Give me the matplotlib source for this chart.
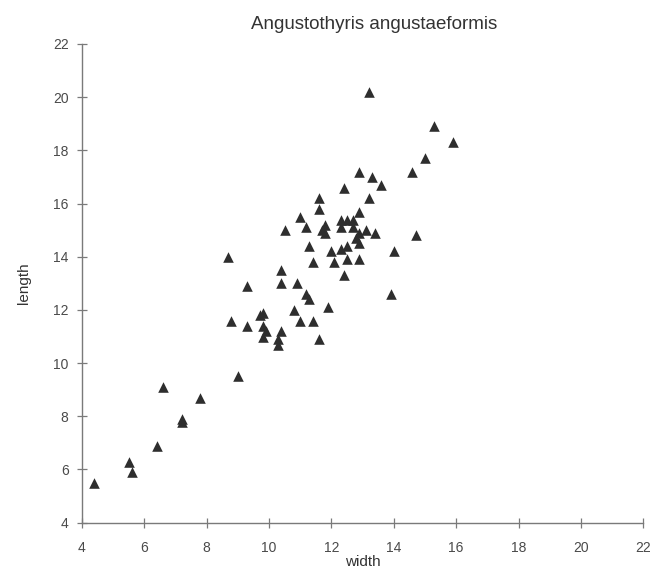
import matplotlib
matplotlib.use('Agg')
import matplotlib.pyplot as plt

plt.rcParams['font.family'] = ['Liberation Sans', 'DejaVu Sans']

# 宽度 / 长度
width = [4.4, 5.5, 5.6, 6.4, 6.6, 7.2, 7.2, 7.8, 8.7, 8.8, 9.0, 9.3, 9.3, 9.7, 9.8,
         9.8, 9.9, 9.8, 10.3, 10.3, 10.4, 10.4, 10.4, 10.5, 10.8, 10.9, 11.0, 11.0,
         11.2, 11.2, 11.3, 11.3, 11.4, 11.4, 11.6, 11.6, 11.6, 11.8, 11.7, 11.8, 11.9,
         12.0, 12.1, 12.3, 12.3, 12.3, 12.4, 12.4, 12.5, 12.5, 12.5, 12.7, 12.7, 12.8,
         12.9, 12.9, 12.9, 12.9, 12.9, 13.1, 13.2, 13.2, 13.3, 13.4, 13.6, 13.9, 14.0,
         14.6, 14.7, 15.0, 15.3, 15.9]
length = [5.5, 6.3, 5.9, 6.9, 9.1, 7.9, 7.8, 8.7, 14.0, 11.6, 9.5, 12.9, 11.4, 11.8, 11.9,
          11.4, 11.2, 11.0, 10.9, 10.7, 11.2, 13.5, 13.0, 15.0, 12.0, 13.0, 11.6, 15.5,
          15.1, 12.6, 12.4, 14.4, 11.6, 13.8, 16.2, 15.8, 10.9, 15.2, 15.0, 14.9, 12.1,
          14.2, 13.8, 15.4, 15.1, 14.3, 16.6, 13.3, 15.4, 14.4, 13.9, 15.4, 15.1, 14.7,
          15.7, 14.9, 14.5, 13.9, 17.2, 15.0, 16.2, 20.2, 17.0, 14.9, 16.7, 12.6, 14.2,
          17.2, 14.8, 17.7, 18.9, 18.3]
ticks = [4, 6, 8, 10, 12, 14, 16, 18, 20, 22]

fig = plt.figure(figsize=(6.5, 5.69), dpi=100)
ax = fig.add_axes([0.1257, 0.0814, 0.864, 0.8413])

ax.scatter(width, length, marker='^', s=58, color='#2e2e2e', linewidths=0, zorder=3)

ax.set_xlim(4, 22)
ax.set_ylim(4, 22)
ax.set_xticks(ticks)
ax.set_yticks(ticks)

# 坐标轴样式
for side in ['top', 'right']:
    ax.spines[side].set_visible(False)
for side in ['left', 'bottom']:
    ax.spines[side].set_color('#7a7a7a')
    ax.spines[side].set_linewidth(1.0)
ax.tick_params(direction='inout', length=7, width=0.9, color='#7a7a7a',
               labelcolor='#4a4a4a', labelsize=10)
ax.tick_params(axis='x', pad=10)
ax.tick_params(axis='y', pad=6)

ax.set_xlabel('width', fontsize=11, color='#333333', labelpad=0)
ax.set_ylabel('length', fontsize=11, color='#333333', labelpad=16)
ax.set_title('Angustothyris angustaeformis', fontsize=13.5, color='#333333', pad=11, x=0.52)

plt.savefig('out.png', dpi=100)
